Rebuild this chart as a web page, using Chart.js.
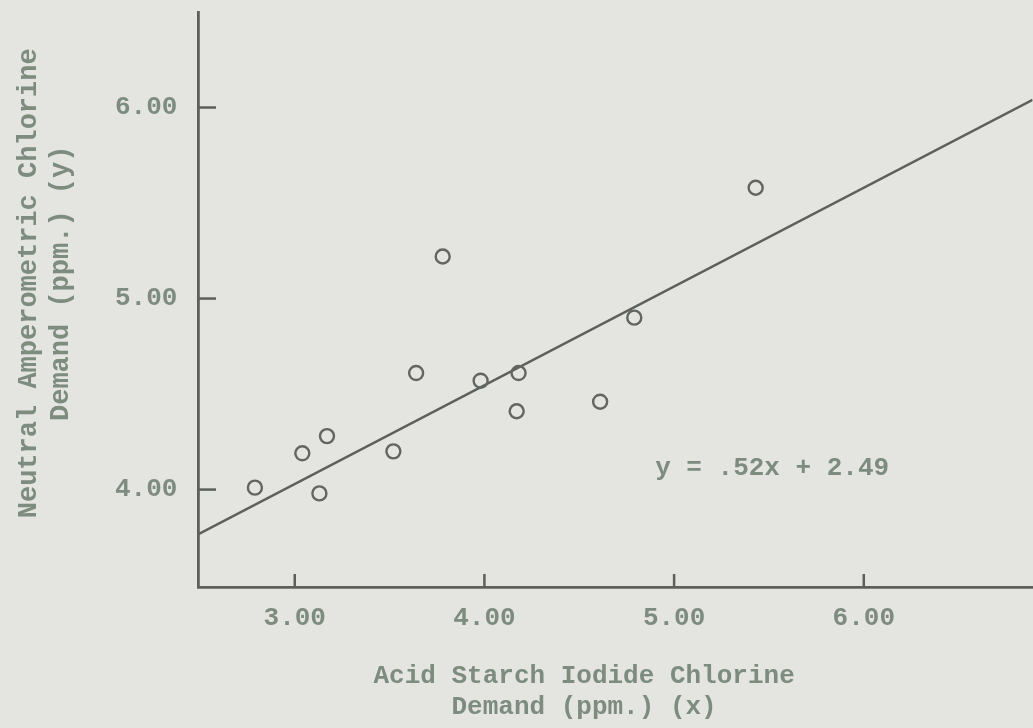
<!DOCTYPE html>
<html><head><meta charset="utf-8">
<script src="https://cdn.jsdelivr.net/npm/chart.js@4.4.1/dist/chart.umd.min.js"></script>
<style>html,body{margin:0;padding:0;background:#e4e5e1;overflow:hidden;}#wrap{width:1033px;height:728px;overflow:hidden;}</style>
</head><body><div id="wrap"><canvas id="c" width="1042" height="728"></canvas></div>
<script>
const pointsX = [2.79, 3.04, 3.17, 3.13, 3.52, 3.64, 3.78, 3.98, 4.18, 4.17, 4.61, 4.79, 5.43];
const pointsY = [4.01, 4.19, 4.28, 3.98, 4.20, 4.61, 5.22, 4.57, 4.61, 4.41, 4.46, 4.90, 5.58];
const lineX = [2.49, 6.89];
const lineY = [3.765, 6.04];
const xTicks = [3, 4, 5, 6];
const yTicks = [4, 5, 6];
const equation = "y = .52x + 2.49";
const eqPos = [4.90, 4.11];
const xTitle = ["Acid Starch Iodide Chlorine    ", "Demand (ppm.) (x)    "];
const yTitle = ["  Neutral Amperometric Chlorine", "  Demand (ppm.) (y)"];

const TXT = '#7d8c7e';
const INK = '#5c5f5c';
const FONT = '"Liberation Mono", "DejaVu Sans Mono", monospace';

const inward = {
  id: 'inward',
  afterDraw(chart) {
    const ctx = chart.ctx, xs = chart.scales.x, ys = chart.scales.y;
    ctx.save();
    ctx.strokeStyle = INK; ctx.lineWidth = 2.5;
    xTicks.forEach(v => { const px = xs.getPixelForValue(v); ctx.beginPath(); ctx.moveTo(px, ys.bottom); ctx.lineTo(px, ys.bottom - 13); ctx.stroke(); });
    yTicks.forEach(v => { const py = ys.getPixelForValue(v); ctx.beginPath(); ctx.moveTo(xs.left, py); ctx.lineTo(xs.left + 18, py); ctx.stroke(); });
    ctx.fillStyle = TXT; ctx.font = 'bold 26px ' + FONT; ctx.textBaseline = 'middle'; ctx.textAlign = 'left';
    ctx.fillText(equation, xs.getPixelForValue(eqPos[0]), ys.getPixelForValue(eqPos[1]));
    ctx.restore();
  }
};

new Chart(document.getElementById('c'), {
  type: 'scatter',
  data: {
    datasets: [
      { type: 'scatter', data: pointsX.map((x, i) => ({x, y: pointsY[i]})), pointRadius: 7, pointBorderWidth: 2.4,
        pointBackgroundColor: 'rgba(0,0,0,0)', pointBorderColor: '#626562' },
      { type: 'line', data: lineX.map((x, i) => ({x, y: lineY[i]})), borderColor: INK, borderWidth: 2.4, pointRadius: 0, fill: false }
    ]
  },
  options: {
    responsive: false, animation: false, devicePixelRatio: 1,
    layout: { padding: { top: 12, right: 0, left: 0, bottom: 0 } },
    plugins: { legend: { display: false }, tooltip: { enabled: false } },
    scales: {
      x: { type: 'linear', min: 2.49, max: 6.89,
        afterBuildTicks: s => { s.ticks = xTicks.map(v => ({value: v})); },
        afterFit: s => { s.height = 141; },
        grid: { display: false, drawTicks: false },
        border: { display: true, color: INK, width: 2.8 },
        ticks: { padding: 16, color: TXT, font: { family: FONT, size: 26, weight: 'bold' }, callback: v => v.toFixed(2) },
        title: { display: true, text: xTitle, color: TXT, font: { family: FONT, size: 26, weight: 'bold' }, padding: { top: 20, bottom: 5 }, lineHeight: 1.08 }
      },
      y: { type: 'linear', min: 3.49, max: 6.50,
        afterBuildTicks: s => { s.ticks = yTicks.map(v => ({value: v})); },
        afterFit: s => { s.width = 198; },
        grid: { display: false, drawTicks: false },
        border: { display: true, color: INK, width: 2.8 },
        ticks: { padding: 5, color: TXT, font: { family: FONT, size: 26, weight: 'bold', lineHeight: 0.4 }, callback: v => v.toFixed(2) + ' ' },
        title: { display: true, text: yTitle, color: TXT, font: { family: FONT, size: 27, weight: 'bold' }, padding: { top: 13, bottom: 0 }, lineHeight: 0.96 }
      }
    }
  },
  plugins: [inward]
});
</script></body></html>
